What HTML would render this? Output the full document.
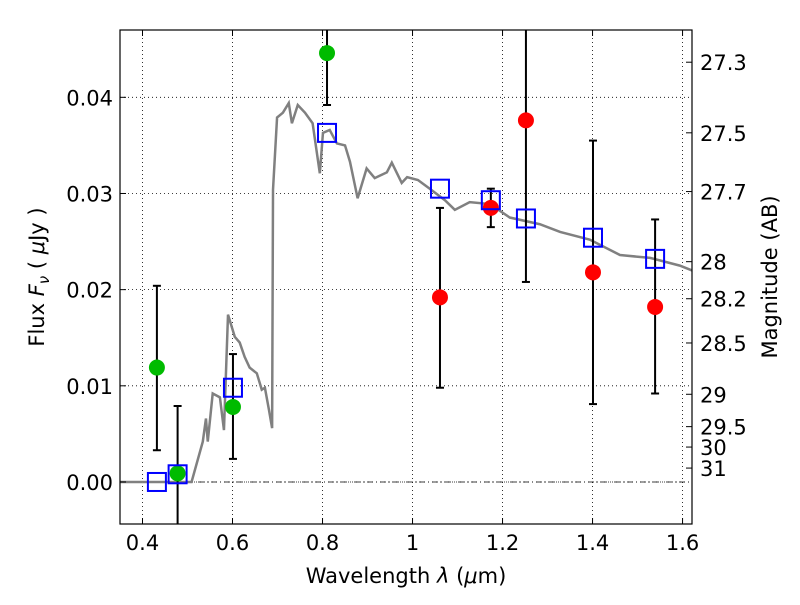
<!DOCTYPE html>
<html><head><meta charset="utf-8"><style>
body{margin:0;background:#fff}
svg text{font-family:"DejaVu Sans","Liberation Sans",sans-serif;fill:#000}
</style></head><body>
<svg id="chart" width="800" height="600" xmlns="http://www.w3.org/2000/svg">
<rect width="800" height="600" fill="#fff"/>
<g id="grid"></g>
<g id="spec"></g>
<g id="marks"></g>
<rect x="120" y="30" width="572" height="494" fill="none" stroke="#000" stroke-width="1.2"/>
<g id="ticks"></g>
<text x="406" y="583" text-anchor="middle" font-size="21">Wavelength  <tspan font-style="italic">λ</tspan> (<tspan font-style="italic">μ</tspan>m)</text>
<text transform="translate(44,277) rotate(-90)" text-anchor="middle" font-size="21">Flux  <tspan font-style="italic">F</tspan><tspan font-style="italic" font-size="15" dy="5">ν</tspan><tspan dy="-5">  ( </tspan><tspan font-style="italic">μ</tspan>Jy )</text>
<text transform="translate(777,277) rotate(-90)" text-anchor="middle" font-size="21">Magnitude (AB)</text>
</svg>
<script>
const xTicks=[0.4,0.6,0.8,1.0,1.2,1.4,1.6];
const xTickLabels=["0.4","0.6","0.8","1","1.2","1.4","1.6"];
const yTicks=[0,0.01,0.02,0.03,0.04];
const yTickLabels=["0.00","0.01","0.02","0.03","0.04"];
const magTicks=[27.3,27.5,27.7,28,28.2,28.5,29,29.5,30,31];
const magTickLabels=["27.3","27.5","27.7","28","28.2","28.5","29","29.5","30","31"];
const specLam=[0.35,0.509,0.534,0.541,0.545,0.556,0.572,0.581,0.590,0.605,0.616,0.627,0.638,0.654,0.665,0.672,0.681,0.688,0.690,0.699,0.712,0.725,0.732,0.745,0.761,0.778,0.794,0.801,0.816,0.832,0.850,0.861,0.878,0.898,0.916,0.943,0.954,0.976,0.988,1.012,1.038,1.072,1.094,1.127,1.172,1.216,1.283,1.328,1.394,1.461,1.528,1.594,1.621];
const specFlux=[0,0,0.0042,0.0066,0.0042,0.0092,0.0088,0.0054,0.0174,0.0151,0.0145,0.0130,0.0119,0.0113,0.0096,0.0098,0.0075,0.0056,0.0304,0.0379,0.0384,0.0394,0.0373,0.0392,0.0384,0.0373,0.0321,0.0363,0.0366,0.0352,0.0350,0.0333,0.0295,0.0326,0.0316,0.0322,0.0332,0.0311,0.0317,0.0314,0.0305,0.0293,0.0283,0.0291,0.0289,0.0275,0.0268,0.0260,0.0252,0.0236,0.0233,0.0225,0.0220];
const greenLam=[0.432,0.478,0.601,0.810];
const greenFlux=[0.0119,0.0009,0.0078,0.0446];
const greenLo=[0.0033,-0.006,0.0024,0.0392];
const greenHi=[0.0204,0.0079,0.0133,0.06];
const redLam=[1.061,1.174,1.252,1.401,1.539];
const redFlux=[0.0192,0.0285,0.0376,0.0218,0.0182];
const redLo=[0.0098,0.0265,0.0208,0.0081,0.0092];
const redHi=[0.0285,0.0305,0.06,0.0355,0.0273];
const modelLam=[0.432,0.478,0.601,0.810,1.061,1.174,1.252,1.401,1.539];
const modelFlux=[0.0,0.0008,0.0098,0.0363,0.0305,0.0293,0.0274,0.0254,0.0232];

const NS="http://www.w3.org/2000/svg";
const X0=120,X1=692,Y0=30,Y1=524;
const xMin=0.35,xMax=1.621,yMin=-0.00437,yMax=0.047;
const sx=v=>X0+(v-xMin)/(xMax-xMin)*(X1-X0);
const sy=v=>Y1-(v-yMin)/(yMax-yMin)*(Y1-Y0);
const cy=v=>Math.max(Y0,Math.min(Y1,sy(v)));
function mk(tag,attrs,parent,text){const e=document.createElementNS(NS,tag);for(const k in attrs)e.setAttribute(k,attrs[k]);if(text!==undefined)e.textContent=text;parent.appendChild(e);return e;}
const grid=document.getElementById('grid'),ticks=document.getElementById('ticks'),spec=document.getElementById('spec'),marks=document.getElementById('marks');
xTicks.forEach((v,i)=>{const x=sx(v);
 const g=mk('line',{x1:x,x2:x,y1:Y0,y2:Y1,stroke:'#000','stroke-width':0.8,'stroke-dasharray':'1,3'},grid);
 
 mk('line',{x1:x,x2:x,y1:Y1,y2:Y1-6,stroke:'#000'},ticks);mk('line',{x1:x,x2:x,y1:Y0,y2:Y0+6,stroke:'#000'},ticks);
 const t=mk('text',{x:x,y:Y1+26,'text-anchor':'middle','font-size':21},ticks,xTickLabels[i]);
 });
yTicks.forEach((v,i)=>{const y=sy(v);
 const g=mk('line',{x1:X0,x2:X1,y1:y,y2:y,stroke:'#000','stroke-width':0.8,'stroke-dasharray':'1,3'},grid);
 
 mk('line',{x1:X0,x2:X0+6,y1:y,y2:y,stroke:'#000'},ticks);
 const t=mk('text',{x:X0-7,y:y+8,'text-anchor':'end','font-size':21},ticks,yTickLabels[i]);
 });
const zl=mk('line',{x1:X0,x2:X1,y1:sy(0),y2:sy(0),stroke:'#000','stroke-width':0.8,'stroke-dasharray':'6,3,1,3'},grid);

magTicks.forEach((m,i)=>{const f=Math.pow(10,(23.9-m)/2.5);const y=sy(f);
 mk('line',{x1:X1,x2:X1-6,y1:y,y2:y,stroke:'#000'},ticks);
 const t=mk('text',{x:X1+8,y:y+8,'font-size':21},ticks,magTickLabels[i]);
 });
const p=mk('polyline',{points:specLam.map((l,i)=>sx(l)+','+sy(specFlux[i])).join(' '),fill:'none',stroke:'#808080','stroke-width':2.5},spec);

function err(lam,lo,hi){const x=sx(lam);const g=mk('g',{stroke:'#000','stroke-width':2},marks);
 
 mk('line',{x1:x,x2:x,y1:cy(lo),y2:cy(hi)},g);
 if(sy(lo)<=Y1)mk('line',{x1:x-4,x2:x+4,y1:sy(lo),y2:sy(lo)},g);
 if(sy(hi)>=Y0)mk('line',{x1:x-4,x2:x+4,y1:sy(hi),y2:sy(hi)},g);}
greenLam.forEach((l,i)=>err(l,greenLo[i],greenHi[i]));
redLam.forEach((l,i)=>err(l,redLo[i],redHi[i]));
greenLam.forEach((l,i)=>{const c=mk('circle',{cx:sx(l),cy:sy(greenFlux[i]),r:8,fill:'#00bb00'},marks);
 });
redLam.forEach((l,i)=>{const c=mk('circle',{cx:sx(l),cy:sy(redFlux[i]),r:8,fill:'#ff0000'},marks);
 });
modelLam.forEach((l,i)=>{const r=mk('rect',{x:sx(l)-9,y:sy(modelFlux[i])-9,width:18,height:18,fill:'none',stroke:'#0000ff','stroke-width':2},marks);
 });
</script>
</body></html>
